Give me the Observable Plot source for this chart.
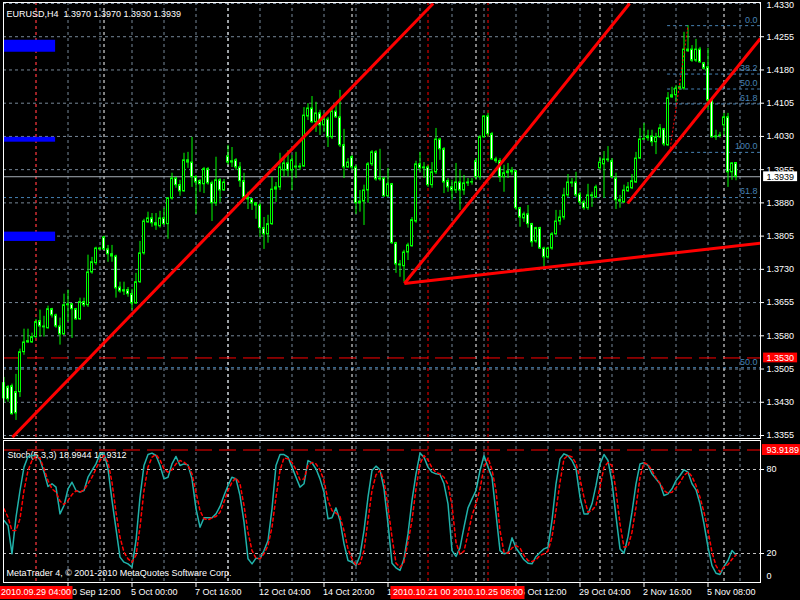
<!DOCTYPE html>
<html><head><meta charset="utf-8">
<script src="https://cdn.jsdelivr.net/npm/d3@7"></script>
<script src="https://cdn.jsdelivr.net/npm/@observablehq/plot@0.6"></script>
<style>
html,body{margin:0;padding:0;background:#000;}
#root{position:relative;width:800px;height:600px;background:#000;overflow:hidden;}
#root svg{position:absolute;left:0;}
</style></head><body><div id="root"></div>
<script>
// ---------- DATA ----------
const symbol = "EURUSD", timeframe = "H4";
const opens = [1.3473,1.3464,1.3466,1.3453,1.3453,1.3543,1.3565,1.3565,1.3577,1.3613,
1.3601,1.3597,1.3640,1.3626,1.3601,1.3583,1.3649,1.3651,1.3640,1.3617,
1.3656,1.3649,1.3723,1.3744,1.3777,1.3802,1.3775,1.3764,1.3759,1.3689,
1.3680,1.3683,1.3674,1.3653,1.3701,1.3766,1.3836,1.3845,1.3834,1.3827,
1.3845,1.3832,1.3890,1.3935,1.3920,1.3906,1.3976,1.3971,1.3938,1.3929,
1.3922,1.3956,1.3924,1.3879,1.3931,1.3908,1.3985,1.3971,1.3976,1.3960,
1.3929,1.3892,1.3888,1.3879,1.3874,1.3823,1.3809,1.3832,1.3910,1.3915,
1.3953,1.3969,1.3953,1.3962,1.3962,1.3962,1.4075,1.4093,1.4062,1.4082,
1.4055,1.4068,1.4028,1.4086,1.4073,1.4010,1.3960,1.3983,1.3960,1.3879,
1.3883,1.3908,1.3967,1.3994,1.3933,1.3935,1.3895,1.3922,1.3789,1.3741,
1.3737,1.3768,1.3782,1.3838,1.3967,1.3958,1.3960,1.3920,1.3949,1.4023,
1.4001,1.3929,1.3915,1.3908,1.3926,1.3908,1.3924,1.3926,1.3974,1.3938,
1.4028,1.4075,1.4035,1.3978,1.3974,1.3938,1.3947,1.3949,1.3951,1.3868,
1.3845,1.3854,1.3832,1.3793,1.3823,1.3777,1.3757,1.3777,1.3809,1.3838,
1.3847,1.3897,1.3926,1.3926,1.3899,1.3881,1.3868,1.3897,1.3892,1.3958,
1.3967,1.3978,1.3974,1.3935,1.3886,1.3881,1.3906,1.3913,1.3926,1.3980,
1.4023,1.4026,1.4030,1.4017,1.4028,1.4046,1.4010,1.4118,1.4123,1.4138,
1.4138,1.4226,1.4226,1.4201,1.4226,1.4195,1.4186,1.4111,1.4030,1.4032,
1.4055,1.4073,1.3949,1.3970];
const highs = [1.3486,1.3468,1.3471,1.3493,1.3550,1.3595,1.3595,1.3586,1.3617,1.3638,
1.3624,1.3647,1.3642,1.3629,1.3620,1.3674,1.3683,1.3653,1.3642,1.3665,
1.3665,1.3762,1.3757,1.3780,1.3780,1.3805,1.3784,1.3784,1.3762,1.3701,
1.3701,1.3689,1.3685,1.3721,1.3793,1.3843,1.3859,1.3856,1.3856,1.3861,
1.3868,1.3892,1.3947,1.3938,1.3931,1.3992,1.3994,1.4028,1.3942,1.3933,
1.3960,1.3960,1.3929,1.3983,1.3935,1.3933,1.4010,1.4005,1.3980,1.3971,
1.3947,1.3904,1.3890,1.3881,1.3879,1.3847,1.3852,1.3938,1.3926,1.3992,
1.3980,1.3998,1.3987,1.3994,1.3969,1.4095,1.4104,1.4120,1.4107,1.4089,
1.4082,1.4073,1.4093,1.4104,1.4134,1.4046,1.3980,1.3987,1.3965,1.3908,
1.3920,1.3971,1.3998,1.3998,1.4001,1.3938,1.3958,1.3924,1.3791,1.3750,
1.3773,1.3789,1.3847,1.3974,1.3994,1.3971,1.3965,1.3971,1.4048,1.4026,
1.4005,1.3935,1.3931,1.3969,1.3953,1.3942,1.3935,1.3935,1.3980,1.4032,
1.4077,1.4082,1.4039,1.3983,1.3980,1.3965,1.3969,1.3960,1.3953,1.3870,
1.3859,1.3874,1.3834,1.3825,1.3825,1.3780,1.3780,1.3813,1.3863,1.3863,
1.3913,1.3944,1.3935,1.3949,1.3904,1.3886,1.3922,1.3904,1.3920,1.3983,
1.3996,1.4007,1.3980,1.3947,1.3897,1.3920,1.3926,1.3944,1.3994,1.4048,
1.4059,1.4044,1.4044,1.4037,1.4057,1.4048,1.4129,1.4141,1.4145,1.4150,
1.4265,1.4280,1.4235,1.4249,1.4231,1.4197,1.4229,1.4118,1.4044,1.4039,
1.4082,1.4082,1.3971,1.3970];
const lows = [1.3428,1.3430,1.3401,1.3389,1.3441,1.3536,1.3563,1.3563,1.3574,1.3577,
1.3577,1.3595,1.3620,1.3597,1.3559,1.3581,1.3611,1.3574,1.3615,1.3615,
1.3644,1.3644,1.3719,1.3739,1.3773,1.3773,1.3746,1.3746,1.3665,1.3676,
1.3671,1.3667,1.3638,1.3651,1.3698,1.3762,1.3834,1.3825,1.3818,1.3823,
1.3829,1.3798,1.3886,1.3913,1.3895,1.3904,1.3958,1.3915,1.3854,1.3904,
1.3901,1.3920,1.3838,1.3872,1.3881,1.3906,1.3965,1.3960,1.3953,1.3915,
1.3890,1.3865,1.3863,1.3843,1.3802,1.3775,1.3789,1.3829,1.3881,1.3908,
1.3938,1.3938,1.3908,1.3935,1.3953,1.3960,1.4066,1.4059,1.4039,1.4032,
1.4039,1.4005,1.4023,1.4071,1.4005,1.3935,1.3958,1.3953,1.3854,1.3859,
1.3829,1.3879,1.3962,1.3929,1.3929,1.3892,1.3892,1.3786,1.3721,1.3712,
1.3701,1.3750,1.3780,1.3834,1.3949,1.3935,1.3915,1.3913,1.3944,1.3976,
1.3901,1.3904,1.3886,1.3901,1.3863,1.3897,1.3917,1.3920,1.3931,1.3931,
1.4026,1.4028,1.3976,1.3969,1.3926,1.3904,1.3935,1.3942,1.3863,1.3825,
1.3836,1.3823,1.3780,1.3789,1.3775,1.3735,1.3753,1.3773,1.3807,1.3829,
1.3841,1.3892,1.3915,1.3892,1.3874,1.3863,1.3863,1.3870,1.3890,1.3953,
1.3890,1.3971,1.3935,1.3865,1.3868,1.3879,1.3904,1.3910,1.3924,1.3978,
1.4021,1.4019,1.4007,1.3989,1.4026,1.4007,1.4007,1.4116,1.4107,1.4134,
1.4134,1.4220,1.4197,1.4197,1.4195,1.4179,1.4089,1.4026,1.4021,1.4026,
1.4032,1.3915,1.3931,1.3930];
const closes = [1.3439,1.3437,1.3403,1.3405,1.3543,1.3565,1.3568,1.3577,1.3611,1.3601,
1.3599,1.3640,1.3626,1.3601,1.3583,1.3649,1.3651,1.3640,1.3617,1.3656,
1.3649,1.3723,1.3746,1.3777,1.3775,1.3775,1.3764,1.3759,1.3687,1.3680,
1.3683,1.3674,1.3653,1.3701,1.3766,1.3838,1.3845,1.3834,1.3829,1.3845,
1.3832,1.3890,1.3935,1.3920,1.3906,1.3976,1.3971,1.3938,1.3926,1.3922,
1.3956,1.3924,1.3879,1.3931,1.3908,1.3926,1.3971,1.3974,1.3960,1.3929,
1.3892,1.3888,1.3879,1.3874,1.3823,1.3809,1.3832,1.3910,1.3915,1.3960,
1.3969,1.3953,1.3976,1.3960,1.3960,1.4077,1.4093,1.4062,1.4082,1.4055,
1.4068,1.4028,1.4086,1.4073,1.4010,1.3960,1.3971,1.3960,1.3879,1.3883,
1.3908,1.3967,1.3994,1.3933,1.3935,1.3895,1.3922,1.3789,1.3741,1.3739,
1.3768,1.3784,1.3841,1.3967,1.3958,1.3960,1.3920,1.3949,1.4023,1.4001,
1.3926,1.3915,1.3908,1.3926,1.3908,1.3924,1.3926,1.3927,1.3938,1.4028,
1.4075,1.4035,1.3978,1.3974,1.3938,1.3947,1.3951,1.3953,1.3868,1.3847,
1.3854,1.3832,1.3791,1.3823,1.3777,1.3757,1.3777,1.3809,1.3838,1.3847,
1.3897,1.3926,1.3924,1.3897,1.3881,1.3868,1.3897,1.3895,1.3915,1.3971,
1.3978,1.3976,1.3938,1.3886,1.3883,1.3908,1.3915,1.3929,1.3980,1.4023,
1.4024,1.4030,1.4017,1.4028,1.4048,1.4012,1.4116,1.4123,1.4138,1.4141,
1.4226,1.4222,1.4201,1.4226,1.4197,1.4183,1.4111,1.4028,1.4028,1.4031,
1.4073,1.3949,1.3969,1.3939];

const stochMain = [43.6,40.0,19.8,45.9,65.0,81.7,89.3,90.0,90.0,86.9,
78.1,67.9,69.8,67.4,48.3,54.3,66.2,70.9,65.0,63.8,
65.0,74.5,79.3,84.0,91.2,91.7,80.5,57.9,37.6,17.4,
13.8,12.6,10.2,29.3,60.2,82.9,90.7,91.7,90.0,82.9,
73.3,74.5,84.0,89.3,82.9,84.0,83.3,73.3,51.9,38.8,
45.5,45.5,45.5,48.3,53.6,61.4,68.6,74.5,73.3,61.4,
42.4,16.2,12.6,16.7,16.2,22.1,29.3,51.9,82.9,90.7,
90.7,88.8,81.7,74.5,67.4,69.8,86.4,84.8,80.5,73.3,
63.8,44.8,45.5,52.6,43.6,26.9,15.0,13.8,11.4,18.6,
36.4,60.2,79.3,82.4,79.8,66.2,41.2,13.1,9.8,7.9,
16.2,34.0,57.9,76.9,91.7,88.8,81.7,78.1,76.9,76.4,
69.8,55.5,22.1,17.9,24.0,38.8,52.6,59.0,65.0,79.3,
90.0,81.7,74.5,48.3,22.1,19.8,20.5,31.2,24.0,19.8,
15.5,13.1,12.6,17.9,20.7,23.3,24.5,43.6,69.8,87.6,
91.2,89.8,86.4,80.5,60.2,48.3,48.3,55.5,68.6,84.0,
90.7,86.4,70.9,46.4,23.3,20.2,32.1,49.5,69.8,84.0,
84.8,82.9,76.9,73.3,69.8,61.4,62.6,66.2,72.1,75.7,
79.8,78.1,69.8,65.5,55.5,41.2,24.5,11.4,5.9,5.0,
10.7,15.0,22.1,18.9944];
const stochSignal = [51.9,45.9,36.4,36.4,44.8,65.0,79.3,86.4,89.5,88.1,
80.5,72.1,66.2,63.8,57.4,55.0,57.9,62.1,64.8,63.8,
65.5,69.8,74.5,80.5,86.4,90.0,85.2,70.9,49.5,31.7,
20.9,16.2,13.8,18.6,38.8,65.0,81.7,88.8,90.7,86.9,
80.5,78.1,79.8,84.0,86.4,85.2,82.9,76.9,63.8,50.7,
44.8,44.0,45.5,46.4,49.5,56.7,65.0,70.9,74.0,69.8,
54.3,35.2,22.1,16.7,16.2,19.8,25.7,38.8,60.2,79.3,
88.3,87.6,85.0,79.8,72.6,73.3,82.9,85.0,84.0,79.8,
72.1,57.9,50.7,48.8,46.4,36.4,23.3,16.2,11.9,12.6,
22.1,43.6,65.0,76.2,79.3,72.1,53.1,31.7,13.1,10.2,
13.8,28.1,43.6,66.2,84.0,90.0,86.9,81.2,77.9,76.9,
74.5,69.3,54.3,28.1,19.3,21.7,34.0,47.1,55.5,66.2,
81.7,88.3,79.8,65.0,36.4,20.9,20.2,24.0,25.7,24.0,
18.6,15.0,14.3,15.5,18.6,19.8,21.7,31.7,50.7,70.9,
87.6,90.0,89.0,84.5,73.3,60.2,49.5,50.7,54.3,67.4,
81.7,85.0,82.9,65.0,41.2,24.5,25.0,35.2,53.1,74.5,
84.8,83.6,79.3,74.0,70.2,65.0,63.1,63.8,66.9,70.9,
75.7,78.3,75.0,68.6,60.2,49.5,36.4,20.9,11.4,6.7,
10.2,12.1,15.9,18.9312];

const priceTicks = [1.4330,1.4255,1.4180,1.4105,1.4030,1.3955,1.3880,1.3805,1.3730,1.3655,1.3580,1.3505,1.3430,1.3355];
const stochTicks = [80, 20];
const stochZeroTick = [0];
const stochAlert = 93.9189;
const alertPrice = 1.3530;
const gridBars = [8,16,24,32,40,48,56,64,72,80,88,96,104,112,120,128,136,144,152,160,168,176,184];
const separatorBars = [25,56,87,118,149,180];
const labelBars = [16,32,48,64,80,96,128,144,160,176];
const axisLabels = ["30 Sep 12:00","5 Oct 00:00","7 Oct 16:00","12 Oct 04:00","14 Oct 20:00","19 Oct 08:00","26 Oct 12:00","29 Oct 04:00","2 Nov 16:00","5 Nov 08:00"];
const markedBars = [8,106,121];
const markedLabels = ["2010.09.29 04:00","2010.10.21 00:00","2010.10.25 08:00"];
// trend lines: [bar1, price1, bar2, price2]
const trendStartBars = [2.1, 100.1, 100.1, 155.9];
const trendStartPrices = [1.3351, 1.3698, 1.3698, 1.3879];
const trendEndBars = [107.3, 156.4, 189.1, 189.1];
const trendEndPrices = [1.4330, 1.4330, 1.3789, 1.4251];
// Fibonacci (upper) anchors
const fibBars = [166.4, 171.0];
const fibPrices = [1.3994, 1.4280];
const fibLevels = [0, 38.2, 50, 61.8, 100];
// Fibonacci (lower, only two levels in view)
const fib2Levels = [61.8, 50.0];
const fib2Prices = [1.3892, 1.3508];
// blue rectangles
const zoneStartBars = [-3, -3, -3];
const zoneEndBars = [12.9, 12.9, 12.9];
const zoneTops = [1.4247, 1.4028, 1.3814];
const zoneBottoms = [1.4220, 1.4017, 1.3793];

// ---------- BUILD ----------
const FONT = "'Liberation Sans', Arial, sans-serif";
const GRID = "#778899";
const FIB = "#4682B4";
const GREEN = "#00ff00";
const X = {domain: [0, 184], range: [3.5, 739.5], axis: null};
const candles = opens.map((o, i) => ({i, o, h: highs[i], l: lows[i], c: closes[i]}));
const bodies = candles.filter(d => Math.abs(d.o - d.c) >= 0.00005);
const dojis = candles.filter(d => Math.abs(d.o - d.c) < 0.00005);
const trends = trendStartBars.map((b, k) => ({b1: b, p1: trendStartPrices[k], b2: trendEndBars[k], p2: trendEndPrices[k]}));
const fibRange = fibPrices[1] - fibPrices[0];
const fibs = fibLevels.map(L => ({label: L.toFixed(1), price: fibPrices[1] - L / 100 * fibRange}));
const fibs2 = fib2Levels.map((L, k) => ({label: L.toFixed(1), price: fib2Prices[k]}));
const zones = zoneStartBars.map((b, k) => ({b1: b, b2: zoneEndBars[k], top: zoneTops[k], bottom: zoneBottoms[k]}));
const marked = markedBars.map((b, k) => ({bar: b, label: markedLabels[k]}));
const last = candles[candles.length - 1];
const header = `${symbol},${timeframe}\u00a0\u00a0${last.o.toFixed(4)}\u00a0${last.h.toFixed(4)}\u00a0${last.l.toFixed(4)}\u00a0${last.c.toFixed(4)}`;
const baseStyle = {background: "transparent", color: "white", fontFamily: FONT, fontSize: "9px", overflow: "visible"};
const dash = "3,3";

const main = Plot.plot({
  width: 800, height: 440,
  marginLeft: 3, marginRight: 40, marginTop: 2, marginBottom: 2,
  x: X,
  y: {domain: [1.3355, 1.4330], range: [435, 3], axis: null},
  color: {type: "identity"},
  style: baseStyle,
  marks: [
    Plot.ruleY(priceTicks, {stroke: GRID, strokeDasharray: dash}),
    Plot.ruleX(gridBars, {stroke: GRID, strokeDasharray: dash}),
    Plot.ruleX(separatorBars, {stroke: "white", strokeDasharray: dash}),
    Plot.ruleX(marked, {x: "bar", stroke: "red", strokeDasharray: dash}),
    Plot.ruleY(fibs2, {y: "price", stroke: FIB, strokeDasharray: dash}),
    Plot.text(fibs2, {y: "price", text: "label", frameAnchor: "right", textAnchor: "end", dx: -3, dy: -6, fill: FIB}),
    Plot.ruleY(fibs, {y: "price", x1: () => fibBars[0] - 0.5, x2: () => 189.1, stroke: FIB, strokeDasharray: dash}),
    Plot.text(fibs, {y: "price", text: "label", frameAnchor: "right", textAnchor: "end", dx: -3, dy: -6, fill: FIB}),
    Plot.rect(zones, {x1: "b1", x2: "b2", y1: "bottom", y2: "top", fill: "blue", clip: true}),
    Plot.ruleY([last.c], {stroke: "#a8b0b8"}),
    Plot.ruleY([alertPrice], {stroke: "red", strokeDasharray: "17,7"}),
    Plot.ruleX(candles, {x: "i", y1: "l", y2: "h", stroke: GREEN}),
    Plot.rect(bodies, {x1: d => d.i - 0.25, x2: d => d.i + 0.25, y1: "o", y2: "c", fill: d => d.c > d.o ? "black" : "white", stroke: GREEN}),
    Plot.ruleY(dojis, {y: "c", x1: d => d.i - 0.375, x2: d => d.i + 0.375, stroke: GREEN}),
    Plot.link(trends, {x1: "b1", y1: "p1", x2: "b2", y2: "p2", stroke: "red", strokeWidth: 3, clip: true}),
    Plot.link([0], {x1: () => fibBars[0], y1: () => fibPrices[0], x2: () => fibBars[1], y2: () => fibPrices[1], stroke: "red", strokeDasharray: "2,2"}),
    Plot.frame({stroke: "white"}),
    Plot.axisY(priceTicks.slice(1), {anchor: "right", tickSize: 3, tickPadding: 3, tickFormat: d => d.toFixed(4), fill: "white", stroke: "white"}),
    Plot.text(priceTicks.slice(0, 1), {y: d => d, text: d => d.toFixed(4), frameAnchor: "right", dx: 6, dy: 2, textAnchor: "start", fill: "white"}),
    Plot.rect([last.c], {x1: () => 189.9, x2: () => 198.4, y1: d => d - 0.0011, y2: d => d + 0.0011, fill: "white"}),
    Plot.text([last.c], {y: d => d, text: d => d.toFixed(4), frameAnchor: "right", dx: 6, textAnchor: "start", fill: "black"}),
    Plot.rect([alertPrice], {x1: () => 189.9, x2: () => 198.4, y1: d => d - 0.0011, y2: d => d + 0.0011, fill: "red"}),
    Plot.text([alertPrice], {y: d => d, text: d => d.toFixed(4), frameAnchor: "right", dx: 6, textAnchor: "start", fill: "white"}),
    Plot.text([header], {frameAnchor: "top-left", dx: 3, dy: 8, textAnchor: "start", fill: "white"})
  ]
});

const stochTitle = `Stoch(5,3,3) ${stochMain[stochMain.length - 1].toFixed(4)} ${stochSignal[stochSignal.length - 1].toFixed(4)}`;
const stoch = Plot.plot({
  width: 800, height: 162,
  marginLeft: 3, marginRight: 40, marginTop: 2, marginBottom: 18,
  x: X,
  y: {domain: [0, 100], range: [143, 3], axis: null},
  style: baseStyle,
  marks: [
    Plot.ruleY(stochTicks, {stroke: "#c0c0c0", strokeDasharray: dash}),
    Plot.ruleX(gridBars, {stroke: GRID, strokeDasharray: dash}),
    Plot.ruleX(separatorBars, {stroke: "white", strokeDasharray: dash}),
    Plot.ruleX(marked, {x: "bar", stroke: "red", strokeDasharray: dash}),
    Plot.text([stochTitle], {frameAnchor: "top-left", dx: 4, dy: 11, textAnchor: "start", fill: "white"}),
    Plot.text(["MetaTrader 4, \u00a9 2001-2010 MetaQuotes Software Corp."], {frameAnchor: "bottom-left", dx: 3, dy: -7, textAnchor: "start", fill: "white"}),
    Plot.ruleY([stochAlert], {stroke: "red", strokeDasharray: "17,7"}),
    Plot.line(stochMain, {x: (d, i) => i, y: d => d, stroke: "#20b2aa"}),
    Plot.line(stochSignal, {x: (d, i) => i, y: d => d, stroke: "red", strokeDasharray: "3,3"}),
    Plot.frame({stroke: "white"}),
    Plot.axisY(stochTicks, {anchor: "right", tickSize: 3, tickPadding: 3, fill: "white", stroke: "white"}),
    Plot.text(stochZeroTick, {y: d => d, text: d => String(d), frameAnchor: "right", dx: 6, dy: -5, textAnchor: "start", fill: "white"}),
    Plot.rect([stochAlert], {x1: () => 189.6, x2: () => 200, y1: d => d - 3.9, y2: d => d + 3.9, fill: "red"}),
    Plot.text([stochAlert], {y: d => d, text: d => d.toFixed(4), frameAnchor: "right", dx: 6, textAnchor: "start", fill: "white"})
  ]
});

const strip = Plot.plot({
  width: 800, height: 18,
  marginLeft: 3, marginRight: 40, marginTop: 0, marginBottom: 0,
  x: X,
  style: baseStyle,
  marks: [
    Plot.ruleX(labelBars, {stroke: "white", insetBottom: 13}),
    Plot.text(axisLabels, {x: (d, i) => labelBars[i], text: d => d, frameAnchor: "middle", textAnchor: "start", dx: -1, dy: 0.5, fill: "white"}),
    ...marked.flatMap(m => [
      Plot.rect([m], {x1: d => d.bar - 9.25, x2: d => d.bar + 9.25, insetTop: 4, insetBottom: 1, fill: "red"}),
      Plot.text([m], {x: "bar", text: "label", frameAnchor: "middle", dy: 0.5, fill: "white"})
    ])
  ]
});

const root = document.getElementById("root");
[[main, 0], [stoch, 438], [strip, 582]].forEach(([svg, top]) => {
  svg.style.position = "absolute";
  svg.style.top = top + "px";
  svg.style.left = "0px";
  svg.style.maxWidth = "none";
  root.appendChild(svg);
});
</script>
</body></html>
